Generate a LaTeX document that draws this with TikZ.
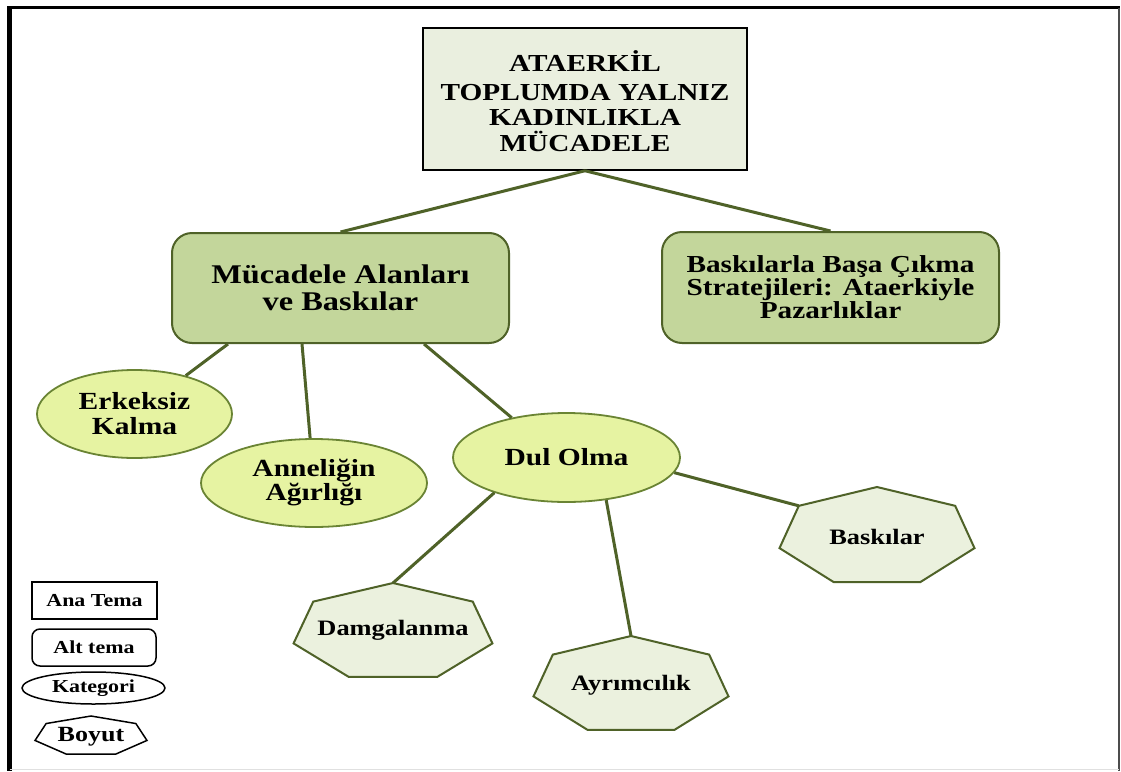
\documentclass[tikz,border=0pt]{standalone}
\usepackage{fontspec}
\newfontfamily\tf{Liberation Serif}[FakeStretch=1.2]
\usetikzlibrary{shapes.geometric,calc}
\definecolor{titlefill}{HTML}{EAEFDF}
\definecolor{subfill}{HTML}{C3D69B}
\definecolor{catfill}{HTML}{E6F3A2}
\definecolor{dimfill}{HTML}{EBF1DE}
\definecolor{olive}{HTML}{4F6228}
\definecolor{olivel}{HTML}{6A8434}
\newcommand\myfs[2]{\fontsize{#1}{#2}\selectfont}
\newcommand\drawhept[4]{%
  \draw[#1] ($(#2)+(90:#3pt and #4pt)$)
    \foreach \k in {1,...,6}{ -- ($(#2)+({90+\k*360/7}:#3pt and #4pt)$)} -- cycle;}
\tikzset{
  txt/.style={align=center, inner sep=0, text=black},
  titlebox/.style={draw=black, line width=1.5, fill=titlefill, minimum width=324, minimum height=142, inner sep=0},
  subbox/.style={txt, draw=olive, line width=2, fill=subfill, rounded corners=20, minimum width=337, minimum height=110},
  catell/.style={txt, ellipse, draw=olivel, line width=1.8, fill=catfill},
  dimshape/.style={draw=olive, line width=2, fill=dimfill},
  conn/.style={draw=olive, line width=3},
  legbox/.style={txt, draw=black, line width=1.5, fill=white, font=\tf\bfseries\myfs{18.3}{20}},
  legshape/.style={draw=black, line width=1.5, fill=white},
}
\begin{document}
\begin{tikzpicture}[x=1pt,y=-1pt, font=\tf\bfseries]
\useasboundingbox (0,0) rectangle (1121,771);
\fill[white] (0,0) rectangle (1121,771);
% frame
\draw[line width=3] (8,7.5) -- (1120,7.5);
\draw[line width=4.5] (9.5,6) -- (9.5,771);
\draw[line width=2, black!70] (1119,7.5) -- (1119,771);
\draw[line width=1, black!12] (9.5,769.5) -- (1119,769.5);

% main theme
\node[titlebox] (title) at (585,99) {};
\node[txt, font=\tf\bfseries\myfs{24.4}{25.5}] (titletxt) at (585,101)
  {ATAERKİL\\[3pt]TOPLUMDA YALNIZ\\KADINLIKLA\\MÜCADELE};
% sub themes
\node[subbox, font=\tf\bfseries\myfs{27}{27}] (muc) at (340.5,288)
  {Mücadele Alanları\\ve Baskılar};
\node[subbox, minimum height=111, font=\tf\bfseries\myfs{24.4}{23}] (bas) at (830.5,287.5)
  {Baskılarla Başa Çıkma\\Stratejileri: Ataerkiyle\\Pazarlıklar};
% categories
\node[catell, minimum width=195, minimum height=88, font=\tf\bfseries\myfs{24.6}{25}] (erk) at (134.5,414)
  {Erkeksiz\\Kalma};
\node[catell, minimum width=226, minimum height=88, font=\tf\bfseries\myfs{24.6}{24}] (ann) at (314,483)
  {Anneliğin\\Ağırlığı};
\node[catell, minimum width=227, minimum height=89, font=\tf\bfseries\myfs{24.6}{25}] (dul) at (566.5,457.5)
  {Dul Olma};

% dimensions (flattened heptagons)
\coordinate (damc) at (393,632.4);
\coordinate (ayc) at (631,685.4);
\coordinate (bakc) at (877,537);
\drawhept{dimshape}{damc}{102}{49.4}
\drawhept{dimshape}{ayc}{100}{49.4}
\drawhept{dimshape}{bakc}{100}{50}
\coordinate (damtop) at ($(damc)+(90:102pt and 49.4pt)$);
\coordinate (aytop) at ($(ayc)+(90:100pt and 49.4pt)$);
\coordinate (bakul) at ($(bakc)+({90+360/7}:100pt and 50pt)$);
\node[txt, font=\tf\bfseries\myfs{22}{22}] (dam) at ($(damc)+(0,-2)$) {Damgalanma};
\node[txt, font=\tf\bfseries\myfs{22}{22}] (ay) at (ayc) {Ayrımcılık};
\node[txt, font=\tf\bfseries\myfs{22}{22}] (bak) at (bakc) {Baskılar};

% connectors
\draw[conn] (title.south) -- (muc.north);
\draw[conn] (title.south) -- (bas.north);
\coordinate (m1) at ($(muc.south west)+(57,0)$);
\coordinate (m2) at ($(muc.south west)+(131,0)$);
\coordinate (m3) at ($(muc.south west)+(253,0)$);
\draw[conn] (m1) -- (erk);
\draw[conn] (m2) -- (ann);
\draw[conn] (m3) -- (dul.144);
\draw[conn] (dul.206) -- (damtop);
\draw[conn] (dul.313.6) -- (aytop);
\draw[conn] (dul.352.5) -- (bakul);

% legend
\node[legbox, minimum width=125, minimum height=37] (lana) at (94.5,600.5) {Ana Tema};
\node[legbox, rounded corners=8, minimum width=124, minimum height=37] (lalt) at (94,647.5) {Alt tema};
\node[legbox, ellipse, minimum width=143, minimum height=32] (lkat) at (93.5,688) {Kategori};
\coordinate (lboyc) at (91,736);
\drawhept{legshape}{lboyc}{57.4}{20}
\node[txt, font=\tf\bfseries\myfs{21.7}{22}] (lboy) at ($(lboyc)+(0,1)$) {Boyut};
\end{tikzpicture}
\end{document}
